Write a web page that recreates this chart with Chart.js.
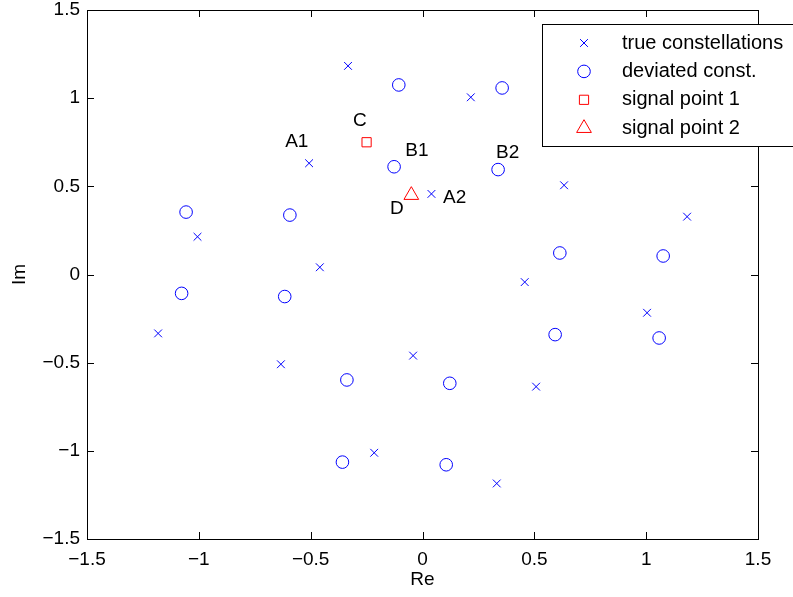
<!DOCTYPE html>
<html>
<head>
<meta charset="utf-8">
<script src="https://cdn.jsdelivr.net/npm/chart.js@4.4.1/dist/chart.umd.min.js"></script>
<style>
  html, body { margin: 0; padding: 0; background: #fff; }
  #wrap { width: 793px; height: 597px; }
</style>
</head>
<body>
<div id="wrap"><canvas id="c" width="793" height="597"></canvas></div>
<script>
// true constellation points (Re, Im)
var trueRe = [-0.333, 0.216, -0.507, 0.040, 0.633, 1.183, -1.006, -0.459, 0.457, -1.182, -0.633, -0.042, 1.004, 0.508, -0.216, 0.332];
var trueIm = [1.183, 1.005, 0.631, 0.457, 0.506, 0.328, 0.214, 0.041, -0.043, -0.334, -0.509, -0.460, -0.217, -0.636, -1.011, -1.185];

// deviated constellation points
var devRe = [-0.106, 0.356, -0.127, 0.338, -1.057, -0.593, 0.614, 1.076, -1.077, -0.616, 0.593, 1.058, -0.338, 0.122, -0.358, 0.106];
var devIm = [1.075, 1.058, 0.611, 0.595, 0.354, 0.337, 0.122, 0.105, -0.107, -0.125, -0.341, -0.360, -0.598, -0.617, -1.064, -1.079];

var sig1 = [-0.250, 0.750];
var sig2 = [-0.050, 0.450];

var seriesNames = ['true constellations', 'deviated const.', 'signal point 1', 'signal point 2'];
var tickVals = [-1.5, -1, -0.5, 0, 0.5, 1, 1.5];

// text labels next to the points
var noteText = ['A1', 'C', 'B1', 'B2', 'D', 'A2'];
var noteRe = [-0.562, -0.280, -0.025, 0.381, -0.115, 0.144];
var noteIm = [0.752, 0.871, 0.702, 0.691, 0.371, 0.438];

var FONT = '"Liberation Sans", Arial, Helvetica, sans-serif';
var BLUE = 'rgb(0,0,255)';
var RED = 'rgb(255,0,0)';

function pts(xs, ys) {
  var out = [];
  for (var i = 0; i < xs.length; i++) out.push({x: xs[i], y: ys[i]});
  return out;
}
function fmt(v) {
  return String(v).replace('-', '\u2212');
}

var datasets = [
  {label: seriesNames[0], data: pts(trueRe, trueIm), pointStyle: 'crossRot', pointRadius: 5.5, borderColor: BLUE},
  {label: seriesNames[1], data: pts(devRe, devIm), pointStyle: 'circle', pointRadius: 6.3, borderColor: BLUE},
  {label: seriesNames[2], data: [{x: sig1[0], y: sig1[1]}], pointStyle: 'rect', pointRadius: 6.5, borderColor: RED},
  {label: seriesNames[3], data: [{x: sig2[0], y: sig2[1]}], pointStyle: 'triangle', pointRadius: 8.5, borderColor: RED}
];
datasets.forEach(function (d) {
  d.backgroundColor = 'rgba(0,0,0,0)';
  d.borderWidth = 1;
  d.pointHoverRadius = d.pointRadius;
  d.showLine = false;
});

// box, inward ticks, notes and legend like the matlab figure
var matlabLook = {
  id: 'matlabLook',
  afterDatasetsDraw: function (chart) {
    var ctx = chart.ctx, a = chart.chartArea;
    var xs = chart.scales.x, ys = chart.scales.y;
    ctx.save();
    ctx.strokeStyle = '#000';
    ctx.lineWidth = 1;
    ctx.strokeRect(Math.round(a.left) + 0.5, Math.round(a.top) + 0.5,
      Math.round(a.right - a.left), Math.round(a.bottom - a.top));
    ctx.beginPath();
    tickVals.forEach(function (v) {
      var px = Math.round(xs.getPixelForValue(v)) + 0.5;
      ctx.moveTo(px, a.bottom); ctx.lineTo(px, a.bottom - 7);
      ctx.moveTo(px, a.top); ctx.lineTo(px, a.top + 7);
      var py = Math.round(ys.getPixelForValue(v)) + 0.5;
      ctx.moveTo(a.left, py); ctx.lineTo(a.left + 7, py);
      ctx.moveTo(a.right, py); ctx.lineTo(a.right - 7, py);
    });
    ctx.stroke();

    ctx.fillStyle = '#000';
    ctx.font = '19px ' + FONT;
    ctx.textAlign = 'center';
    ctx.textBaseline = 'middle';
    for (var i = 0; i < noteText.length; i++) {
      ctx.fillText(noteText[i], xs.getPixelForValue(noteRe[i]), ys.getPixelForValue(noteIm[i]));
    }

    // legend
    var lx = 542, ly = 24, lw = 260, lh = 122;
    ctx.fillStyle = '#fff';
    ctx.fillRect(lx, ly, lw, lh);
    ctx.strokeRect(lx + 0.5, ly + 0.5, lw, lh);
    ctx.textAlign = 'left';
    ctx.font = '20px ' + FONT;
    for (var k = 0; k < chart.data.datasets.length; k++) {
      var ds = chart.data.datasets[k];
      var ry = ly + 19 + k * 28.4;
      ctx.strokeStyle = ds.borderColor;
      ctx.fillStyle = 'rgba(0,0,0,0)';
      ctx.lineWidth = 1;
      Chart.helpers.drawPoint(ctx, {pointStyle: ds.pointStyle, radius: ds.pointRadius, borderWidth: 1}, 584, ry);
      ctx.fillStyle = '#000';
      ctx.fillText(ds.label, 622, ry);
    }
    ctx.restore();
  }
};

new Chart(document.getElementById('c'), {
  type: 'scatter',
  data: {datasets: datasets},
  options: {
    responsive: false,
    animation: false,
    events: [],
    layout: {padding: {top: 10, right: 35, left: 0, bottom: 0}},
    plugins: {legend: {display: false}, tooltip: {enabled: false}},
    scales: {
      x: {
        type: 'linear', min: -1.5, max: 1.5,
        afterBuildTicks: function (s) { s.ticks = tickVals.map(function (v) { return {value: v}; }); },
        afterFit: function (s) { s.height = 58; s.paddingLeft = 0; s.paddingRight = 0; },
        grid: {display: false, drawTicks: false},
        border: {display: false},
        ticks: {color: '#000', font: {family: FONT, size: 19}, padding: 9, maxRotation: 0,
          callback: function (v) { return fmt(v); }},
        title: {display: true, text: 'Re', color: '#000', font: {family: FONT, size: 19}, padding: {top: 0, bottom: 6}}
      },
      y: {
        type: 'linear', min: -1.5, max: 1.5,
        afterBuildTicks: function (s) { s.ticks = tickVals.map(function (v) { return {value: v}; }); },
        afterFit: function (s) { s.width = 87; s.paddingTop = 0; s.paddingBottom = 0; },
        grid: {display: false, drawTicks: false},
        border: {display: false},
        ticks: {color: '#000', font: {family: FONT, size: 19}, padding: 7,
          callback: function (v) { return fmt(v); }},
        title: {display: true, text: 'Im', color: '#000', font: {family: FONT, size: 19}, padding: {top: 8, bottom: 0}}
      }
    }
  },
  plugins: [matlabLook]
});
</script>
</body>
</html>
